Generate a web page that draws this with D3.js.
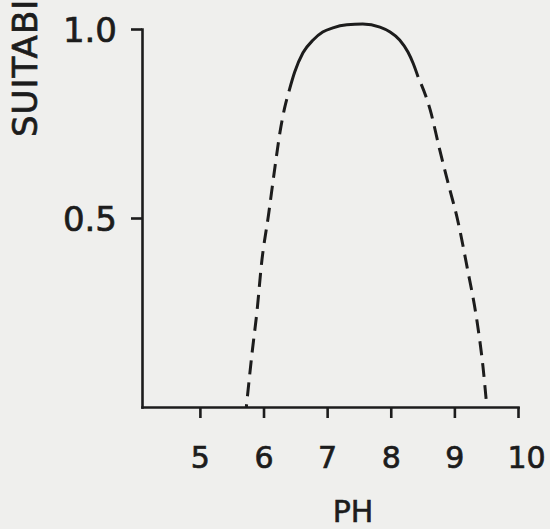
<!DOCTYPE html>
<html>
<head>
<meta charset="utf-8">
<script src="https://cdn.jsdelivr.net/npm/d3@7"></script>
<style>
  body { margin: 0; background: #efefed; }
  svg { display: block; }
  text { font-family: "DejaVu Sans", sans-serif; fill: #1c1c1c; }
</style>
</head>
<body>
<svg width="550" height="529"></svg>
<script>
// values
const ph =          [5.73, 5.82, 5.90, 5.97, 6.08, 6.18, 6.26, 6.33, 6.40, 6.49, 6.62, 6.78, 6.93, 7.09, 7.31, 7.56, 7.83, 7.99, 8.14, 8.27, 8.35, 8.43, 8.62, 8.77, 8.93, 9.04, 9.20, 9.36, 9.45, 9.51]
const suitability = [0,    0.143, 0.257, 0.381, 0.51, 0.635, 0.728, 0.790, 0.835, 0.886, 0.937, 0.971, 0.992, 1.003, 1.011, 1.013, 1.005, 0.992, 0.971, 0.939, 0.910, 0.873, 0.786, 0.680, 0.574, 0.503, 0.370, 0.222, 0.106, 0]
const solidRange = [6.40, 8.43]
const xTicks = [5, 6, 7, 8, 9, 10]
const yTicks = [0.5, 1.0]

const svg = d3.select('svg')
const width = +svg.attr('width')
const height = +svg.attr('height')
const margin = {top: 29, right: 32, bottom: 122, left: 142}
const innerWidth = width - margin.left - margin.right
const innerHeight = height - margin.top - margin.bottom
const ink = '#1c1c1c'
const dash = 14, gap = 8

const data = ph.map((p, i) => ({ph: p, s: suitability[i]}))

const xScale = d3.scaleLinear().domain([4.09, 10]).range([0, innerWidth])
const yScale = d3.scaleLinear().domain([0, 1]).range([innerHeight, 0])

const g = svg.append('g')
  .attr('transform', `translate(${margin.left},${margin.top})`)

const xAxis = g.append('g')
  .attr('transform', `translate(0,${innerHeight})`)
  .call(d3.axisBottom(xScale).tickValues(xTicks).tickFormat(d3.format('d'))
    .tickSize(11).tickSizeOuter(0).tickPadding(29))
xAxis.selectAll('text')
  .attr('font-size', 30)
  .attr('dx', d => d === 10 ? 8 : 0)

const yAxis = g.append('g')
  .call(d3.axisLeft(yScale).tickValues(yTicks).tickFormat(d3.format('.1f'))
    .tickSize(11).tickSizeOuter(0).tickPadding(14))
yAxis.selectAll('text')
  .attr('font-size', 34)
  .attr('dy', '0.36em')

g.selectAll('.domain, .tick line')
  .attr('stroke', ink)
  .attr('stroke-width', 2.6)
g.selectAll('.tick text')
  .attr('fill', ink)
  .attr('stroke', ink)
  .attr('stroke-width', 0.7)
g.selectAll('.domain').attr('stroke-linecap', 'square')

// axis titles
svg.append('text')
  .attr('x', 353)
  .attr('y', 522)
  .attr('text-anchor', 'middle')
  .attr('font-size', 30)
  .attr('stroke', ink)
  .attr('stroke-width', 0.6)
  .text('PH')

svg.append('text')
  .attr('transform', 'translate(37,137) rotate(-90)')
  .attr('text-anchor', 'start')
  .attr('font-size', 34)
  .attr('letter-spacing', 1)
  .attr('stroke', ink)
  .attr('stroke-width', 0.7)
  .text('SUITABILITY')

// curve
const line = d3.line()
  .x(d => xScale(d.ph))
  .y(d => yScale(d.s))
  .curve(d3.curveMonotoneX)

const left = data.filter(d => d.ph <= solidRange[0])
const middle = data.filter(d => d.ph >= solidRange[0] && d.ph <= solidRange[1])
const right = data.filter(d => d.ph >= solidRange[1])

g.append('path')
  .datum(middle)
  .attr('d', line)
  .attr('fill', 'none')
  .attr('stroke', ink)
  .attr('stroke-width', 3)

// dashed tails: each starts with a gap where it meets the solid part
const period = dash + gap
const leftPath = g.append('path')
  .datum(left)
  .attr('d', line)
  .attr('fill', 'none')
  .attr('stroke', ink)
  .attr('stroke-width', 3)
  .attr('stroke-dasharray', `${dash},${gap}`)
const len = leftPath.node().getTotalLength()
leftPath.attr('stroke-dashoffset', (period - len % period) % period)

g.append('path')
  .datum(right)
  .attr('d', line)
  .attr('fill', 'none')
  .attr('stroke', ink)
  .attr('stroke-width', 3)
  .attr('stroke-dasharray', `${dash},${gap}`)
  .attr('stroke-dashoffset', dash)
</script>
</body>
</html>
